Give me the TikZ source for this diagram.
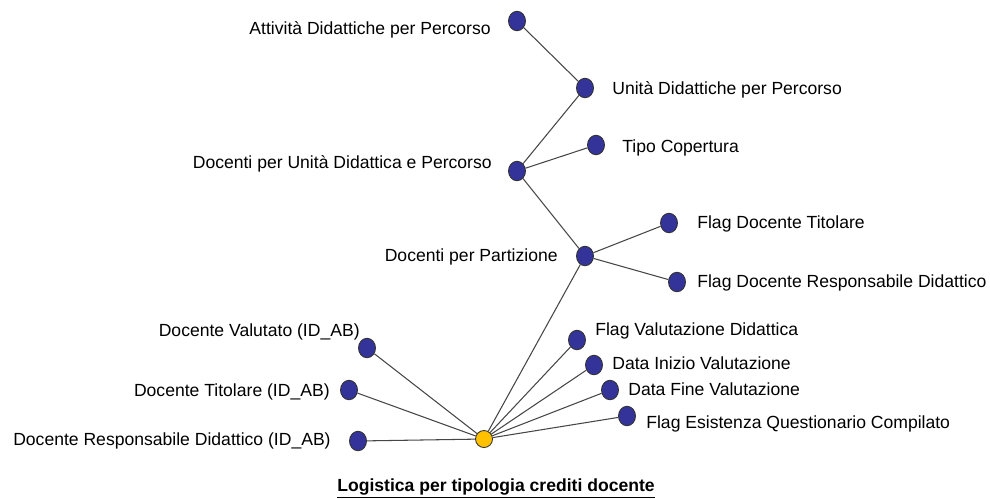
\documentclass[tikz,border=0pt]{standalone}
\usepackage{fontspec}
\setmainfont{Liberation Sans}
\usepackage{xcolor}
\usepackage{tikz}
\definecolor{nodeblue}{RGB}{51, 51, 153}
\definecolor{rootyellow}{RGB}{255, 192, 0}
\definecolor{linegray}{RGB}{70, 70, 70}
\usetikzlibrary{shapes.geometric, positioning}

\begin{document}
\begin{tikzpicture}[
    x=0.02cm, y=-0.02cm,
    field/.style={ellipse, draw=black!80, fill=nodeblue, line width=0.5pt, minimum width=0.34cm, minimum height=0.39cm, inner sep=0pt},
    rootnode/.style={circle, draw=black!80, fill=rootyellow, line width=0.5pt, minimum size=0.34cm, inner sep=0pt},
    lbl/.style={font=\fontsize{10}{12}\selectfont, inner sep=0pt},
    link/.style={draw=linegray, line width=0.6pt}
]
    \useasboundingbox (0, 0) rectangle (990, 498);

    % Root
    \node[rootnode] (root) at (484, 439) {};

    % Upper branch
    \node[field] (attivita) at (517, 21) {};
    \node[field] (unita) at (585, 88) {};
    \node[field] (tipo) at (596, 145) {};
    \node[field] (docud) at (517, 171) {};
    \node[field] (titolare) at (669, 223) {};
    \node[field] (partiz) at (585, 256) {};
    \node[field] (respdid) at (677, 282) {};

    % Lower fields
    \node[field] (valutato) at (367, 348) {};
    \node[field] (doctit) at (349, 390) {};
    \node[field] (docresp) at (358, 441) {};
    \node[field] (flagval) at (577, 340) {};
    \node[field] (datainizio) at (594, 365) {};
    \node[field] (datafine) at (610, 390) {};
    \node[field] (questionario) at (627, 416) {};

    % Links
    \draw[link] (attivita) -- (unita);
    \draw[link] (unita) -- (docud);
    \draw[link] (docud) -- (tipo);
    \draw[link] (docud) -- (partiz);
    \draw[link] (partiz) -- (titolare);
    \draw[link] (partiz) -- (respdid);
    \draw[link] (root) -- (partiz);
    \draw[link] (root) -- (valutato);
    \draw[link] (root) -- (doctit);
    \draw[link] (root) -- (docresp);
    \draw[link] (root) -- (flagval);
    \draw[link] (root) -- (datainizio);
    \draw[link] (root) -- (datafine);
    \draw[link] (root) -- (questionario);

    % Labels
    \node[lbl, anchor=base east] (l-attivita) at (491, 34) {Attività Didattiche per Percorso};
    \node[lbl, anchor=base west] (l-unita) at (612, 94) {Unità Didattiche per Percorso};
    \node[lbl, anchor=base west] (l-tipo) at (622, 152) {Tipo Copertura};
    \node[lbl, anchor=base east] (l-docud) at (492, 168) {Docenti per Unità Didattica e Percorso};
    \node[lbl, anchor=base west] (l-titolare) at (697, 228) {Flag Docente Titolare};
    \node[lbl, anchor=base east] (l-partiz) at (558, 261) {Docenti per Partizione};
    \node[lbl, anchor=base west] (l-respdid) at (697, 287) {Flag Docente Responsabile Didattico};
    \node[lbl, anchor=base east] (l-valutato) at (360, 336) {Docente Valutato (ID\_AB)};
    \node[lbl, anchor=base west] (l-flagval) at (595, 335) {Flag Valutazione Didattica};
    \node[lbl, anchor=base west] (l-datainizio) at (612, 369) {Data Inizio Valutazione};
    \node[lbl, anchor=base east] (l-doctit) at (330, 396) {Docente Titolare (ID\_AB)};
    \node[lbl, anchor=base west] (l-datafine) at (628, 395) {Data Fine Valutazione};
    \node[lbl, anchor=base west] (l-questionario) at (646, 428) {Flag Esistenza Questionario Compilato};
    \node[lbl, anchor=base east] (l-docresp) at (331, 445) {Docente Responsabile Didattico (ID\_AB)};

    % Title
    \node[lbl, anchor=base, font=\fontsize{10}{12}\selectfont\bfseries] (title) at (496, 491) {\underline{Logistica per tipologia crediti docente}};
\end{tikzpicture}
\end{document}
